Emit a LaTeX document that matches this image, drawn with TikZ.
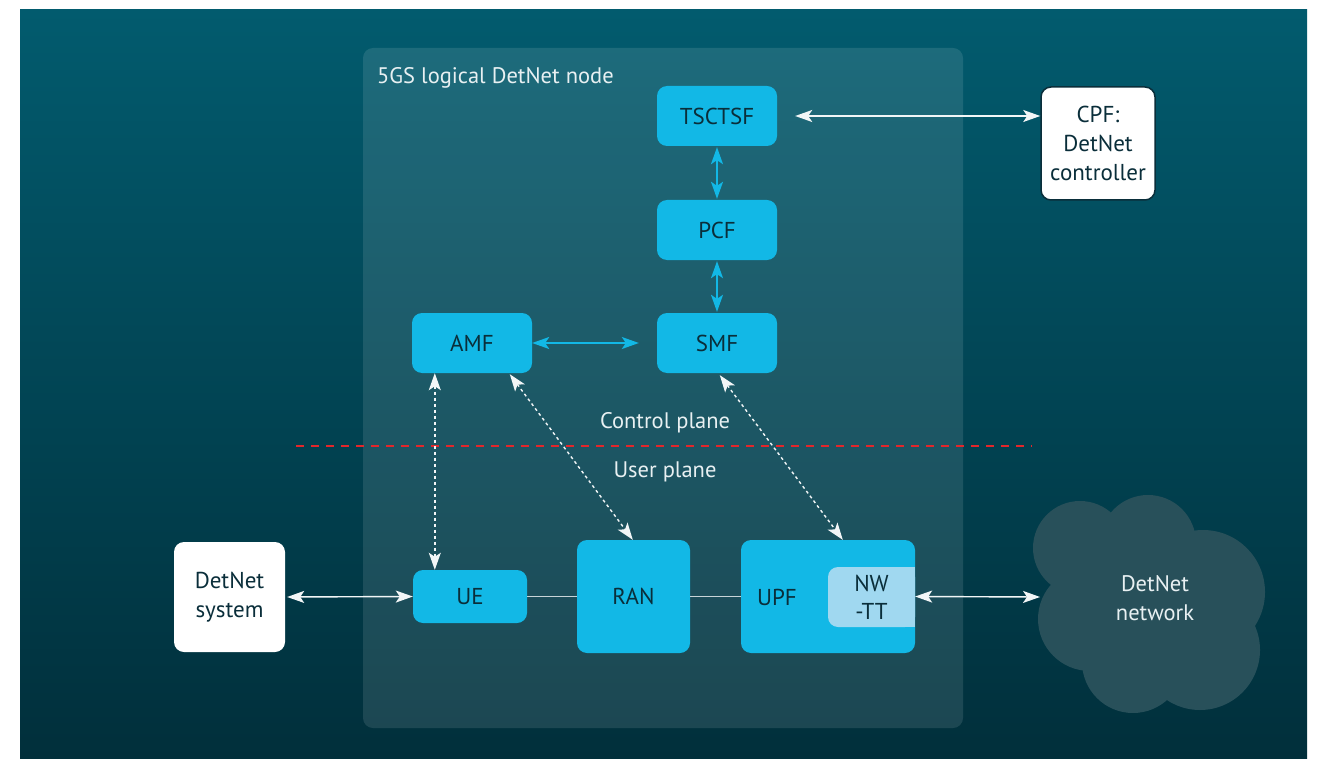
\documentclass[tikz,border=0pt]{standalone}
\usepackage{fontspec}
\setmainfont{PT Sans}
\usetikzlibrary{arrows.meta,calc}
\definecolor{bgtop}{HTML}{025B6E}
\definecolor{bgbot}{HTML}{012F3B}
\definecolor{nfblue}{HTML}{12B8E6}
\definecolor{nwttc}{HTML}{A0D8F0}
\definecolor{txtdark}{HTML}{0A2E3A}
\definecolor{cloudc}{HTML}{28505A}
\definecolor{planered}{HTML}{E3262B}
\definecolor{lineg}{HTML}{F2F6F7}
\definecolor{plaing}{HTML}{C8D4D8}
\definecolor{lbltxt}{HTML}{E8F0F2}
\begin{document}
\begin{tikzpicture}[x=1pt,y=-1pt,
  nf/.style={fill=nfblue, rounded corners=10pt, text=txtdark, font=\fontsize{23}{29}\selectfont, align=center, inner sep=0pt},
  wbox/.style={fill=white, rounded corners=10pt, text=txtdark, font=\fontsize{23}{29}\selectfont, align=center, inner sep=0pt},
  lbl/.style={text=lbltxt, font=\fontsize{22.5}{29}\selectfont, align=center, inner sep=0pt},
  biw/.style={{Stealth[length=17pt,width=12pt,inset=4pt]}-{Stealth[length=17pt,width=12pt,inset=4pt]}, lineg, line width=1.4pt},
  bib/.style={{Stealth[length=17pt,width=12pt,inset=4pt]}-{Stealth[length=17pt,width=12pt,inset=4pt]}, nfblue, line width=1.5pt},
  dotw/.style={biw, dash pattern=on 3pt off 3pt},
  plainl/.style={plaing, line width=1.4pt}
]
\useasboundingbox (0,0) rectangle (1324,759);
\fill[white] (0,0) rectangle (1324,759);
% background
\shade[top color=bgtop, bottom color=bgbot] (20,10) rectangle (1307,759);
% logical node panel
\fill[white, opacity=0.11, rounded corners=10pt] (363,48) rectangle (963,728);
\node[lbl, anchor=west] (title) at (377,78) {5GS logical DetNet node};

% cloud
\begin{scope}[fill=cloudc]
  \fill (1150,610) circle (72);
  \fill (1080,548) circle (47);
  \fill (1148,543) circle (48);
  \fill (1203,592) circle (62);
  \fill (1090,619) circle (52);
  \fill (1133,662) circle (51);
  \fill (1200,650) circle (60);
\end{scope}
\node[lbl] (cloud) at (1155,598) {DetNet\\network};
\coordinate (cloudw) at (1040,597);

% control plane nodes
\node[nf, minimum width=120pt, minimum height=60pt] (tsctsf) at (717,116) {TSCTSF};
\node[nf, minimum width=120pt, minimum height=60pt] (pcf) at (717,230) {PCF};
\node[nf, minimum width=120pt, minimum height=60pt] (smf) at (717,343) {SMF};
\node[nf, minimum width=120pt, minimum height=60pt] (amf) at (472,343) {AMF};

% user plane nodes
\node[nf, minimum width=114pt, minimum height=53pt] (ue) at (470,596.5) {UE};
\node[nf, minimum width=113pt, minimum height=113pt] (ran) at (633.5,596.5) {RAN};
\node[nf, minimum width=174pt, minimum height=113pt] (upf) at (828,596.5) {};
\node[text=txtdark, font=\fontsize{23}{29}\selectfont, inner sep=0pt] (upflbl) at (777,597) {UPF};
\node[nf, fill=nwttc, minimum width=87pt, minimum height=60pt] (nwtt) at (871.5,597) {};
\fill[nwttc] (900,567) rectangle (915,627);
\node[text=txtdark, font=\fontsize{23}{28}\selectfont, align=center, inner sep=0pt] (nwttlbl) at (871.5,597) {NW\\-TT};

% external boxes
\node[wbox, minimum width=111pt, minimum height=110pt] (dsys) at (229.5,597) {DetNet\\system};
\node[wbox, draw=txtdark, line width=1.5pt, minimum width=114pt, minimum height=113pt] (cpf) at (1098,143.5) {CPF:\\DetNet\\controller};

% plane separation
\draw[planered, line width=2pt, dash pattern=on 8pt off 7pt] (296,446) coordinate (sepl) -- (1032,446) coordinate (sepr);
\node[lbl] (cp) at (665,423) {Control plane};
\node[lbl] (up) at (665,472) {User plane};

% connectors
\draw[biw, shorten <=18pt] (tsctsf.east) -- (tsctsf.east -| cpf.west);
\draw[bib, shorten <=1pt, shorten >=1pt] (tsctsf.south) -- (pcf.north);
\draw[bib, shorten <=1pt, shorten >=1pt] (pcf.south) -- (smf.north);
\draw[bib, shorten >=18pt] (amf.east) -- (smf.west);

\coordinate (amfA) at ($(amf.south west)+(23,0)$);
\coordinate (ueA) at ($(ue.north west)+(22,0)$);
\coordinate (amfB) at ($(amf.south west)+(98,1)$);
\coordinate (ranB) at ($(ran.north west)+(56,0)$);
\coordinate (smfC) at ($(smf.south west)+(63,2)$);
\coordinate (upfC) at ($(upf.north west)+(102,0)$);
\draw[dotw] (amfA) -- (ueA);
\draw[dotw] (amfB) -- (ranB);
\draw[dotw] (smfC) -- (upfC);

\draw[biw, shorten <=2pt] (dsys.east) -- (ue.west);
\draw[plainl] (ue.east) -- (ran.west);
\draw[plainl] (ran.east) -- (upf.west);
\draw[biw] (upf.east) -- (cloudw);
\end{tikzpicture}
\end{document}
